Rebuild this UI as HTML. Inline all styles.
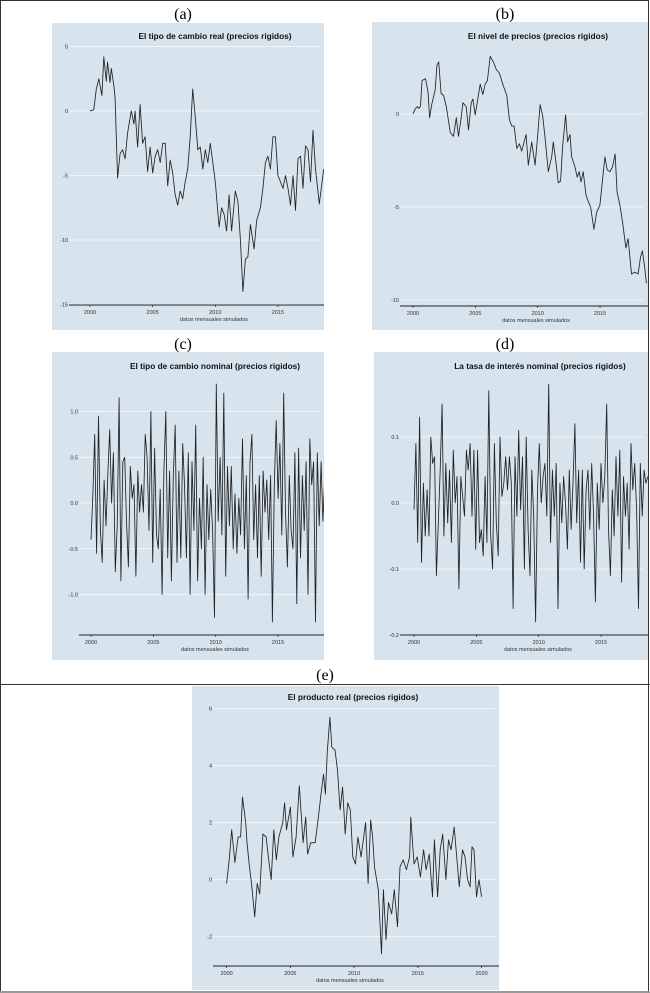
<!DOCTYPE html>
<html><head><meta charset="utf-8"><style>
html,body{margin:0;padding:0;background:#fff;}
svg{display:block;font-family:"Liberation Sans",Arial,sans-serif;}
</style></head><body>
<svg id="fig" width="650" height="993" viewBox="0 0 650 993" xmlns="http://www.w3.org/2000/svg">
<rect x="0.5" y="0.5" width="648" height="991" fill="none" stroke="#333" stroke-width="1"/>
<line x1="0" y1="684.5" x2="650" y2="684.5" stroke="#333" stroke-width="1"/>
<line x1="0" y1="992" x2="650" y2="992" stroke="#999" stroke-width="2"/>
<g font-family="Liberation Serif,serif" font-size="16" fill="#000" text-anchor="middle">
<text x="183" y="19">(a)</text>
<text x="505" y="19">(b)</text>
<text x="183" y="349">(c)</text>
<text x="505" y="349">(d)</text>
<text x="325" y="680">(e)</text>
</g>
</svg>
<script>
// Panel (a): tipo de cambio real
const aYears=[2000,2000.3,2000.5,2000.7,2000.95,2001.1,2001.3,2001.4,2001.6,2001.7,2001.9,2002.0,2002.2,2002.4,2002.6,2002.8,2003,2003.3,2003.5,2003.6,2003.8,2004,2004.2,2004.4,2004.6,2004.8,2005,2005.2,2005.4,2005.6,2005.8,2006,2006.2,2006.4,2006.6,2006.8,2007,2007.2,2007.4,2007.6,2007.8,2008,2008.2,2008.4,2008.6,2008.8,2009,2009.2,2009.4,2009.6,2009.8,2010,2010.3,2010.5,2010.7,2010.9,2011.1,2011.3,2011.6,2011.8,2012,2012.2,2012.4,2012.6,2012.8,2013.1,2013.3,2013.6,2013.8,2014,2014.2,2014.4,2014.6,2014.8,2015,2015.2,2015.4,2015.6,2015.8,2016,2016.2,2016.4,2016.6,2016.8,2017,2017.2,2017.4,2017.6,2017.8,2018,2018.3,2018.65];
const aValues=[0,0.1,1.7,2.5,1.2,4.2,2.3,3.8,2.2,3.3,2,1,-5.2,-3.3,-3,-3.7,-1.7,0,-1,0,-2.8,0.5,-2.5,-2,-4.7,-2.8,-4.8,-3.5,-3,-4,-2.5,-2.5,-5.8,-3.8,-4.8,-6.5,-7.3,-6.2,-6.8,-5.5,-4.5,-2,1.7,-0.5,-3,-2.8,-4.5,-3,-4,-2.5,-4,-5.5,-9,-7.5,-8,-9.3,-6.5,-9.3,-6.2,-7,-10,-14,-11.5,-11.3,-8.8,-10.7,-8.5,-7.5,-6,-4,-3.5,-4.5,-2,-2,-5,-5.5,-6,-5,-6,-7.3,-5,-7.7,-3.7,-3.5,-6,-2.7,-3,-5.5,-1.5,-4.5,-7.2,-4.5];
const aTicksY=[5,0,-5,-10,-15];
const aTickLabelsY=["5","0","-5","-10","-15"];
// Panel (b): nivel de precios
const bYears=[2000,2000.2,2000.35,2000.45,2000.6,2000.72,2001,2001.2,2001.33,2001.5,2001.78,2001.92,2002.06,2002.25,2002.45,2002.67,2002.99,2003.25,2003.47,2003.65,2003.84,2004,2004.27,2004.45,2004.67,2004.8,2004.99,2005.39,2005.6,2005.79,2005.97,2006.19,2006.45,2006.67,2006.93,2007.25,2007.52,2007.73,2007.92,2008.11,2008.32,2008.53,2008.72,2008.91,2009.07,2009.25,2009.52,2009.79,2009.97,2010.19,2010.4,2010.59,2010.85,2011.12,2011.25,2011.47,2011.65,2011.84,212.0+1800,2012.24,2012.4,2012.59,2012.72,2012.99,2013.17,2013.33,2013.47,2013.65,2013.87,2014.05,2014.24,2014.51,2014.72,2014.99,2015.39,2015.57,2015.79,2016.0,2016.21,2016.37,2016.59,2016.8,2017.07,2017.25,2017.52,2017.79,2018.05,2018.24,2018.4,2018.59,2018.72];
const bValues=[0,0.3,0.4,0.3,0.4,1.8,1.9,1.2,-0.2,0.5,1.3,2.6,2.8,1.1,1.0,0.4,-1.0,-1.2,-0.2,-1.2,-0.3,0.6,0.4,-0.85,0.6,0.8,-0.05,1.6,1.05,1.6,1.8,3.1,2.8,2.4,2.2,1.5,1.0,-0.3,-0.65,-0.65,-1.85,-1.6,-2.0,-1.5,-1.1,-2.75,-1.5,-2.75,-1.4,0.5,-0.1,-1.3,-3.1,-2.3,-1.5,-2.6,-3.7,-3.6,-1.75,-0.05,-1.5,-1.1,-2.3,-2.85,-3.4,-3.1,-3.65,-3.1,-4.35,-4.7,-5.0,-6.2,-5.3,-4.9,-2.3,-3.0,-3.1,-2.85,-2.15,-4.2,-4.9,-5.8,-7.2,-6.7,-8.6,-8.5,-8.6,-7.7,-7.35,-8.3,-9.1];
const bTicksY=[0,-5,-10];
const bTickLabelsY=["0","-5","-10"];
// Panels (c) and (d): evenly spaced every 0.15 years from 2000
const cdStartYear=2000;
const cdStepYears=0.15;
const cValues=[-0.4,0.1,0.75,-0.55,0.95,-0.3,-0.65,0.25,-0.25,0.3,0.8,0.0,0.55,-0.75,-0.25,1.15,-0.85,0.45,0.5,-0.2,-0.7,0.4,0.05,0.2,-0.8,0.35,-0.1,0.2,-0.1,0.75,0.5,-0.3,1.0,-0.65,0.6,-0.35,-0.5,0.15,-1.0,0.35,1.0,-0.6,0.35,-0.85,0.3,0.85,-0.65,0.35,-0.6,0.65,0.2,-0.6,0.55,-1.0,0.45,-0.3,0.85,-0.85,0.05,-0.5,0.5,-1.0,0.2,-0.4,0.15,-0.3,-1.25,1.3,-0.2,0.5,-0.35,1.2,-0.8,0.4,-0.25,0.4,-0.5,0.1,-0.55,0.05,-0.35,0.7,-0.5,0.3,-1.05,0.45,0.75,-0.4,0.2,-0.6,0.3,-0.8,0.35,-0.1,0.25,-0.4,0.3,-1.3,0.2,0.9,0.05,0.65,-0.35,1.2,-0.1,-0.7,0.3,-0.3,-0.5,0.55,-1.1,0.6,-0.6,0.3,-0.3,0.45,-1.0,0.7,0.2,0.45,-1.3,0.55,-0.25,0.45,-0.2,0.3];
const cTicksY=[1.0,0.5,0.0,-0.5,-1.0];
const cTickLabelsY=["1.0","0.5","0.0","-0.5","-1.0"];
const dValues=[-0.01,0.09,-0.06,0.13,-0.09,0.03,-0.05,0.02,-0.05,0.1,0.06,0.07,-0.11,-0.03,0.05,0.15,-0.05,0.06,-0.03,0.05,-0.06,0.08,0.0,0.04,-0.13,0.04,0.01,-0.02,0.08,0.05,0.09,-0.02,0.08,-0.07,0.08,-0.06,-0.04,-0.08,0.04,-0.06,0.17,-0.05,-0.1,0.09,-0.03,-0.08,0.1,0.01,0.03,0.07,0.02,0.07,0.03,-0.16,0.07,-0.02,0.11,-0.01,0.07,-0.1,0.1,-0.04,-0.11,0.05,-0.02,-0.18,0.02,0.09,0.0,0.04,0.06,-0.02,0.18,-0.06,0.05,-0.02,0.06,-0.16,0.03,-0.03,0.04,0.0,-0.07,0.05,-0.04,0.03,0.12,-0.03,0.05,-0.09,0.05,-0.1,0.02,0.05,-0.04,0.06,-0.02,-0.15,0.03,-0.04,0.06,0.0,0.04,0.15,-0.04,-0.11,0.02,-0.05,0.07,-0.02,0.08,-0.12,0.04,-0.02,0.03,-0.07,0.09,0.02,0.06,-0.01,-0.16,0.06,-0.02,0.05,0.03,0.04];
const dTicksY=[0.1,0.0,-0.1,-0.2];
const dTickLabelsY=["0.1","0.0","-0.1","-0.2"];
// Panel (e): producto real
const eYears=[2000,2000.2,2000.4,2000.65,2000.9,2001.1,2001.25,2001.5,2001.6,2001.8,2001.95,2002.2,2002.4,2002.6,2002.85,2003.1,2003.3,2003.5,2003.7,2003.9,2004.1,2004.4,2004.55,2004.7,2005,2005.2,2005.45,2005.7,2006,2006.2,2006.35,2006.6,2006.95,2007.2,2007.4,2007.6,2007.75,2007.9,2008.1,2008.25,2008.5,2008.7,2008.9,2009.1,2009.3,2009.5,2009.7,2009.9,2010.1,2010.3,2010.55,2010.75,2010.9,2011.1,2011.3,2011.45,2011.6,2011.9,2012.15,2012.3,2012.5,2012.7,2012.95,2013.15,2013.4,2013.6,2013.85,2014.1,2014.35,2014.45,2014.7,2014.95,2015.2,2015.45,2015.65,2015.9,2016.15,2016.3,2016.55,2016.75,2016.95,2017.2,2017.4,2017.6,2017.85,2018.05,2018.25,2018.5,2018.7,2018.9,2019.1,2019.25,2019.4,2019.6,2019.8,2020];
const eValues=[-0.13,0.7,1.75,0.6,1.5,1.5,2.9,2,1.3,0.45,-0.13,-1.3,-0.13,-0.5,1.6,1.5,0.7,0,1.75,0.7,1.5,2,2.7,1.75,2.55,0.8,1.5,3.3,1.3,2.2,0.9,1.3,1.3,2.2,3.0,3.7,3.0,4.5,5.7,4.65,4.55,3.85,2.45,3.25,1.6,2.7,2.45,0.8,0.55,1.5,0.8,1.5,2,-0.13,2.1,1.5,0.45,-0.35,-2.6,-0.35,-2.1,-0.8,-1.2,-0.35,-1.65,0.45,0.7,0.35,0.8,2.2,0.55,0.8,0.1,1.05,0.35,0.9,-0.6,1.4,-0.6,1.05,1.6,0,1.4,1.05,1.85,0.8,-0.25,1.05,0.8,0,-0.25,1.15,1.05,-0.6,0,-0.6];
const eTicksY=[6,4,2,0,-2];
const eTickLabelsY=["6","4","2","0","-2"];
const xTicksAD=[2000,2005,2010,2015];
const xTicksE=[2000,2005,2010,2015,2020];

const NS="http://www.w3.org/2000/svg";
const fig=document.getElementById('fig');
function mk(tag,attrs,parent){const el=document.createElementNS(NS,tag);for(const k in attrs)el.setAttribute(k,attrs[k]);(parent||fig).appendChild(el);return el;}

function panel(id,cfg,years,values,ticksY,tickLabels,ticksX){
  const g=mk('g',{});
  
  
  const sx=t=>cfg.x2000+(t-2000)*cfg.pxYear;
  const sy=v=>cfg.y0-v*cfg.pxUnit;
  const bg=mk('rect',{x:cfg.bx,y:cfg.by,width:cfg.bw,height:cfg.bh,fill:'#d7e3ed'},g);
  
  
  const clipId='clip-'+id;
  const cp=mk('clipPath',{id:clipId},g);
  mk('rect',{x:cfg.bx,y:cfg.by,width:cfg.bw,height:cfg.bh},cp);
  ticksY.forEach((v,i)=>{
    const gl=mk('line',{x1:cfg.ax1,x2:cfg.bx+cfg.bw-4,y1:sy(v),y2:sy(v),stroke:'#fff','stroke-width':0.8,opacity:0.85},g);
    
    
    const tl=mk('text',{x:cfg.ax1-1,y:sy(v)+2,'font-size':5.5,fill:'#333','text-anchor':'end'},g);
    
    
    tl.textContent=tickLabels[i];
  });
  const ax=mk('line',{x1:cfg.ax1,x2:cfg.bx+cfg.bw,y1:cfg.axY,y2:cfg.axY,stroke:'#222','stroke-width':1},g);
  
  
  ticksX.forEach(t=>{
    const tk=mk('line',{x1:sx(t),x2:sx(t),y1:cfg.axY,y2:cfg.axY+2,stroke:'#222','stroke-width':0.7},g);
    
    
    const tl=mk('text',{x:sx(t),y:cfg.axY+9,'font-size':5.5,fill:'#333','text-anchor':'middle'},g);
    
    
    tl.textContent=String(t);
  });
  const xt=mk('text',{x:cfg.xtX,y:cfg.axY+16,'font-size':5.5,fill:'#333','text-anchor':'middle'},g);
  
  
  xt.textContent='datos mensuales simulados';
  const ti=mk('text',{x:cfg.tX,y:cfg.tY,'font-size':8.3,'font-weight':'bold',fill:'#111','text-anchor':'middle'},g);
  
  
  ti.textContent=cfg.title;
  const n=Math.min(years.length,values.length);
  let d='';
  for(let i=0;i<n;i++){d+=(i?'L':'M')+sx(years[i]).toFixed(1)+' '+sy(values[i]).toFixed(1);}
  const p=mk('path',{d:d,fill:'none',stroke:'#222','stroke-width':0.85,'stroke-linejoin':'round','clip-path':'url(#'+clipId+')'},g);
  
  
}
const cdYears=cValues.map((_,i)=>cdStartYear+i*cdStepYears);
const dYears=dValues.map((_,i)=>cdStartYear+i*cdStepYears);
bYears[58]=2012.0;

panel('chart-a-tipo-cambio-real',{bx:52,by:23,bw:272,bh:307,x2000:90,pxYear:12.53,y0:111,pxUnit:12.9,axY:305,ax1:69,xtX:214,tX:215,tY:39,title:'El tipo de cambio real (precios rigidos)'},aYears,aValues,aTicksY,aTickLabelsY,xTicksAD);
panel('chart-b-nivel-precios',{bx:372,by:22,bw:276,bh:308,x2000:413,pxYear:12.47,y0:114,pxUnit:18.6,axY:306,ax1:400,xtX:536,tX:538,tY:39,title:'El nivel de precios (precios rigidos)'},bYears,bValues,bTicksY,bTickLabelsY,xTicksAD);
panel('chart-c-tipo-cambio-nominal',{bx:52,by:352,bw:272,bh:308,x2000:91,pxYear:12.47,y0:503,pxUnit:91.5,axY:635,ax1:79,xtX:215,tX:215,tY:369,title:'El tipo de cambio nominal (precios rigidos)'},cdYears,cValues,cTicksY,cTickLabelsY,xTicksAD);
panel('chart-d-tasa-interes-nominal',{bx:374,by:352,bw:274,bh:308,x2000:414,pxYear:12.47,y0:503,pxUnit:660,axY:635,ax1:400,xtX:538,tX:540,tY:369,title:'La tasa de interés nominal (precios rigidos)'},dYears,dValues,dTicksY,dTickLabelsY,xTicksAD);
panel('chart-e-producto-real',{bx:192,by:686,bw:307,bh:304,x2000:226.6,pxYear:12.75,y0:879.7,pxUnit:28.5,axY:966,ax1:213,xtX:350,tX:353,tY:700,title:'El producto real (precios rigidos)'},eYears,eValues,eTicksY,eTickLabelsY,xTicksE);
</script>
</body></html>
